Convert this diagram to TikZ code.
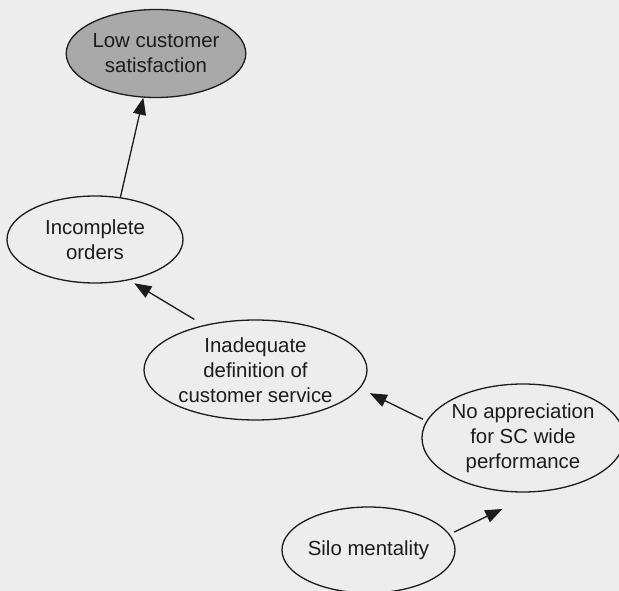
\documentclass[tikz,border=0pt]{standalone}
\usepackage{fontspec}
\setmainfont{Liberation Sans}
\usetikzlibrary{shapes.geometric,arrows.meta}

\definecolor{paper}{HTML}{EDEDED}
\definecolor{ink}{HTML}{1C1C1C}
\definecolor{rootfill}{HTML}{A9A9A9}

\tikzset{
  cause/.style={ellipse, draw=ink, line width=1.3pt, inner sep=0pt,
    text=ink, align=center,
    font=\fontsize{20.4}{25}\selectfont},
  root/.style={cause, fill=rootfill},
  link/.style={draw=ink, line width=1.3pt,
    -{Triangle[length=17pt,width=13pt]}}
}

\begin{document}
\begin{tikzpicture}[x=1pt,y=-1pt]
  % page
  \fill[paper] (0,0) rectangle (619,591);
  \clip (0,0) rectangle (619,591);
  \useasboundingbox (0,0) rectangle (619,591);

  % causes, from effect down to root cause
  \node[root,  minimum width=174pt, minimum height=88pt]  (low)  at (156,53.5)
    {Low customer\\satisfaction};
  \node[cause, minimum width=176pt, minimum height=87pt]  (inc)  at (95,239.5)
    {Incomplete\\orders};
  \node[cause, minimum width=223pt, minimum height=100pt] (def)  at (255.5,370)
    {Inadequate\\definition of\\customer service};
  \node[cause, minimum width=190pt, minimum height=108pt] (appr) at (523,438)
    {No appreciation\\for SC wide\\performance};
  \node[cause, minimum width=173pt, minimum height=86pt]  (silo) at (368.5,550)
    {Silo mentality};

  % cause-and-effect links
  \draw[link] (inc.59) -- (low.-106.3);
  \draw[link, shorten <=11pt, shorten >=6pt] (def.139) -- (inc.-50.9);
  \draw[link, shorten <=4pt, shorten >=11pt] (appr.170.5) -- (def.-10.9);
  \draw[link, shorten <=5pt, shorten >=39pt] (silo.11.5) -- (appr.-75);
\end{tikzpicture}
\end{document}
